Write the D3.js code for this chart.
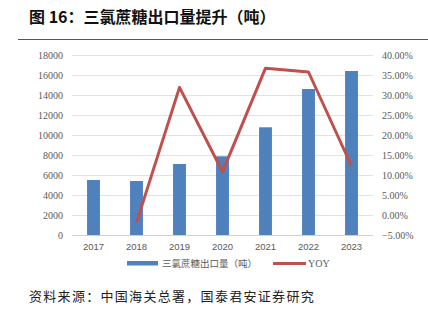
<!DOCTYPE html>
<html>
<head>
<meta charset="utf-8">
<script src="https://cdn.jsdelivr.net/npm/d3@7"></script>
<style>
  html, body { margin: 0; padding: 0; background: #fff; }
  svg { display: block; }
</style>
</head>
<body>
<svg id="chart" width="428" height="323"></svg>
<script>
// Sucralose export volume (tonnes) and year-over-year growth
const years = ["2017", "2018", "2019", "2020", "2021", "2022", "2023"];
const exportVolume = [5500, 5400, 7100, 7870, 10770, 14600, 16400];
const yoyGrowth = [null, -0.019, 0.319, 0.108, 0.367, 0.3575, 0.1225];
const leftTicks = [0, 2000, 4000, 6000, 8000, 10000, 12000, 14000, 16000, 18000];
const rightTicks = [-0.05, 0, 0.05, 0.10, 0.15, 0.20, 0.25, 0.30, 0.35, 0.40];

const titleText = "图 16：三氯蔗糖出口量提升（吨）";
const sourceText = "资料来源：中国海关总署，国泰君安证券研究";
const barLabel = "三氯蔗糖出口量（吨）";
const lineLabel = "YOY";

const svg = d3.select("#chart");
const plot = { left: 72, right: 373, top: 55, bottom: 235 };
const serif = "'Liberation Serif', 'Times New Roman', serif";
const sans = "'Liberation Sans', Arial, sans-serif";
const cjk = "'Noto Sans CJK SC', sans-serif";
const barColor = "#4f81bd";
const lineColor = "#c0504d";
const textColor = "#595959";

const x = d3.scaleBand().domain(years).range([plot.left, plot.right]).paddingInner(0.7).paddingOuter(0.35);
const yL = d3.scaleLinear().domain([0, 18000]).range([plot.bottom, plot.top]);
const yR = d3.scaleLinear().domain([-0.05, 0.40]).range([plot.bottom, plot.top]);

// Title and rule beneath it
svg.append("text")
  .attr("x", 29).attr("y", 23)
  .attr("font-family", cjk).attr("font-weight", "bold").attr("font-size", 16)
  .attr("fill", "#111")
  .text(titleText);
svg.append("line")
  .attr("x1", 18).attr("x2", 428).attr("y1", 39.5).attr("y2", 39.5)
  .attr("stroke", "#555").attr("stroke-width", 1);

// Horizontal gridlines
svg.append("g").selectAll("line").data(leftTicks).join("line")
  .attr("x1", plot.left).attr("x2", plot.right)
  .attr("y1", d => Math.round(yL(d)) + 0.5).attr("y2", d => Math.round(yL(d)) + 0.5)
  .attr("stroke", d => d === 0 ? "#d0d0d0" : "#e2e2e2").attr("stroke-width", 1);

// Left axis
const leftAxis = svg.append("g")
  .attr("transform", `translate(${plot.left},0)`)
  .call(d3.axisLeft(yL).tickValues(leftTicks).tickSize(0).tickPadding(9).tickFormat(d3.format("d")));
leftAxis.select(".domain").remove();
leftAxis.selectAll("text").attr("font-family", serif).attr("font-size", 10).attr("fill", textColor);

// Right axis
const rightAxis = svg.append("g")
  .attr("transform", `translate(${plot.right},0)`)
  .call(d3.axisRight(yR).tickValues(rightTicks).tickSize(0).tickPadding(9).tickFormat(d3.format(".2%")));
rightAxis.select(".domain").remove();
rightAxis.selectAll("text").attr("font-family", serif).attr("font-size", 10).attr("fill", textColor);

// Bottom axis
const bottomAxis = svg.append("g")
  .attr("transform", `translate(0,${plot.bottom})`)
  .call(d3.axisBottom(x).tickSize(0).tickPadding(8));
bottomAxis.select(".domain").remove();
bottomAxis.selectAll("text").attr("font-family", sans).attr("font-size", 9.5).attr("fill", textColor);

// Bars
svg.append("g").selectAll("rect").data(years).join("rect")
  .attr("x", d => x(d))
  .attr("width", x.bandwidth())
  .attr("y", (d, i) => yL(exportVolume[i]))
  .attr("height", (d, i) => yL(0) - yL(exportVolume[i]))
  .attr("fill", barColor);

// YOY line
const linePts = years.map((d, i) => ({ year: d, v: yoyGrowth[i] })).filter(p => p.v !== null);
svg.append("path")
  .datum(linePts)
  .attr("fill", "none")
  .attr("stroke", lineColor)
  .attr("stroke-width", 3)
  .attr("stroke-linejoin", "round")
  .attr("d", d3.line().x(p => x(p.year) + x.bandwidth() / 2).y(p => yR(p.v)));

// Legend
const legendY = 263;
svg.append("rect").attr("x", 127).attr("y", legendY - 2).attr("width", 31).attr("height", 4.5).attr("fill", barColor);
svg.append("text").attr("x", 162).attr("y", legendY + 3.5)
  .attr("font-family", cjk).attr("font-size", 9.5).attr("fill", textColor).text(barLabel);
svg.append("line").attr("x1", 273).attr("x2", 306).attr("y1", legendY + 0.5).attr("y2", legendY + 0.5)
  .attr("stroke", lineColor).attr("stroke-width", 3);
svg.append("text").attr("x", 308).attr("y", legendY + 4)
  .attr("font-family", serif).attr("font-size", 10).attr("fill", textColor).text(lineLabel);

// Source note
svg.append("text").attr("x", 29).attr("y", 301)
  .attr("font-family", cjk).attr("font-size", 13).attr("fill", "#222")
  .attr("letter-spacing", 1.3)
  .text(sourceText);
</script>
</body>
</html>
